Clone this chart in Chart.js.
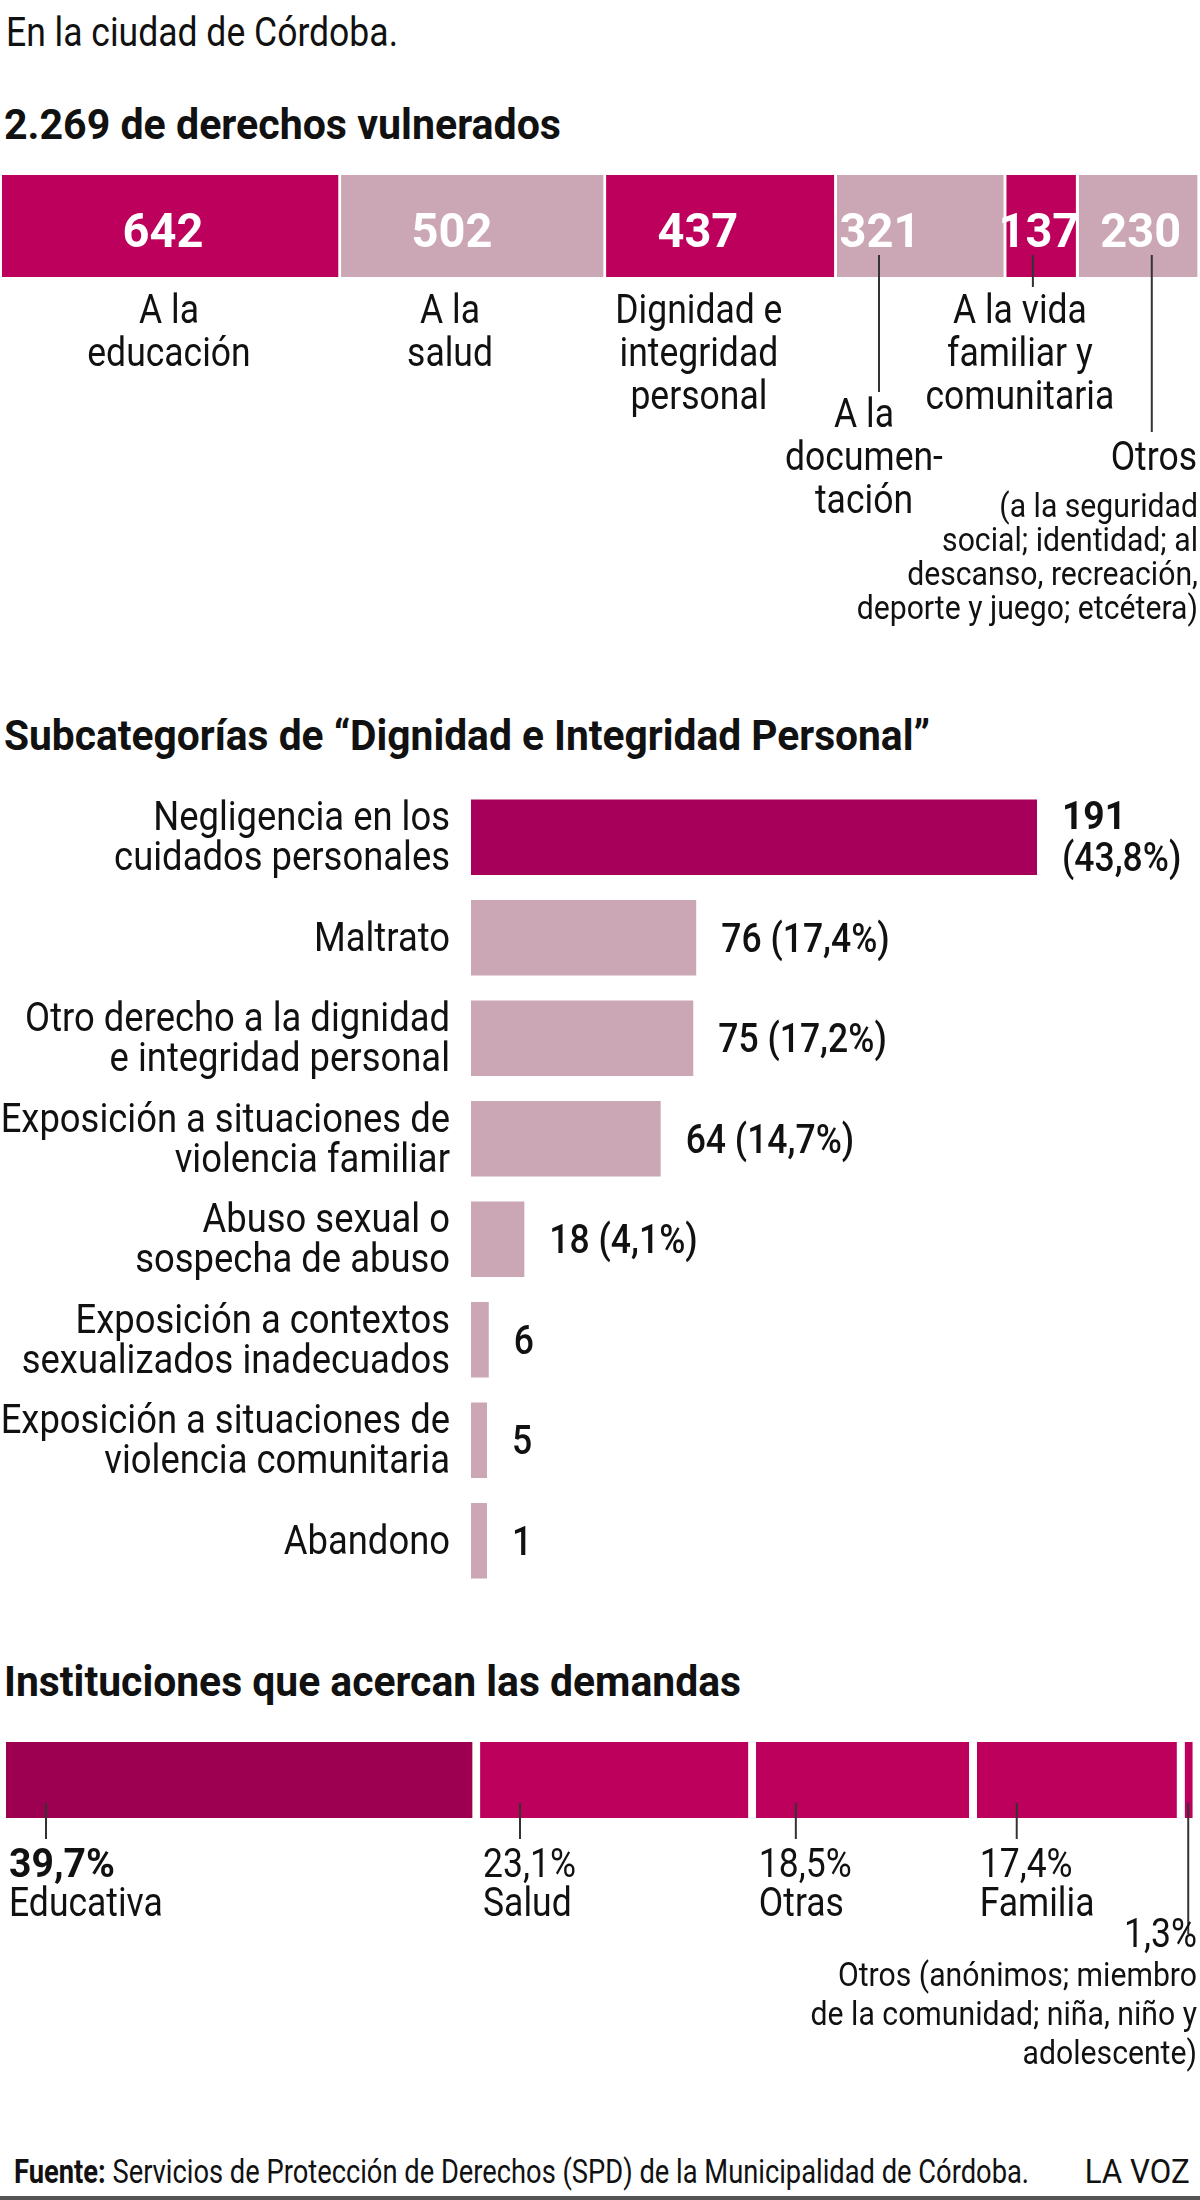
<!DOCTYPE html>
<html lang="es">
<head>
<meta charset="utf-8">
<title>Derechos vulnerados en la ciudad de Córdoba</title>
<script src="https://cdn.jsdelivr.net/npm/chart.js@4.4.1/dist/chart.umd.min.js"></script>
<style>
  html, body { margin: 0; padding: 0; background: #fff; }
  body { width: 1200px; height: 2200px; position: relative; overflow: hidden;
         font-family: Roboto, "Noto Sans", sans-serif; color: #111; }
  .t { position: absolute; white-space: nowrap; line-height: 1; transform-origin: 0 0; }
  .b { font-weight: 700; }
  canvas { position: absolute; left: 0; }
  #footLine { position: absolute; left: 0; top: 2196px; width: 1200px; height: 4px; background: #555; }
</style>
</head>
<body>

<div class="t" id="intro" style="left:6px; top:13px; font-size:40px;">En la ciudad de Córdoba.</div>
<div class="t b" id="title1" style="left:4px; top:104px; font-size:42px;">2.269 de derechos vulnerados</div>
<div class="t b" id="title2" style="left:4px; top:715px; font-size:42px;">Subcategorías de “Dignidad e Integridad Personal”</div>
<div class="t b" id="title3" style="left:4px; top:1661px; font-size:42px;">Instituciones que acercan las demandas</div>

<canvas id="rights" width="1200" height="660" style="top:0px"></canvas>
<canvas id="subcats" width="1200" height="820" style="top:780px"></canvas>
<canvas id="insts" width="1200" height="420" style="top:1720px"></canvas>

<div class="t" id="foot" style="left:14px; top:2155px; font-size:33px;"><b>Fuente:</b> Servicios de Protección de Derechos (SPD) de la Municipalidad de Córdoba.</div>
<div class="t" id="lavoz" style="right:10px; top:2155px; font-size:33px; transform-origin:100% 0;">LA VOZ</div>
<div id="footLine"></div>

<script>
// derechos vulnerados (total 2.269)
const rightsLabels = [['A la', 'educación'], ['A la', 'salud'], ['Dignidad e', 'integridad', 'personal'],
                      ['A la', 'documen-', 'tación'], ['A la vida', 'familiar y', 'comunitaria'], ['Otros']];
const rightsValues = [642, 502, 437, 321, 137, 230];
const otrosNote = ['(a la seguridad', 'social; identidad; al', 'descanso, recreación,', 'deporte y juego; etcétera)'];

// subcategorías de dignidad e integridad personal
const subLabels = [['Negligencia en los', 'cuidados personales'], ['Maltrato'],
                   ['Otro derecho a la dignidad', 'e integridad personal'],
                   ['Exposición a situaciones de', 'violencia familiar'],
                   ['Abuso sexual o', 'sospecha de abuso'],
                   ['Exposición a contextos', 'sexualizados inadecuados'],
                   ['Exposición a situaciones de', 'violencia comunitaria'], ['Abandono']];
const subValues = [191, 76, 75, 64, 18, 6, 5, 1];
const subPercents = [43.8, 17.4, 17.2, 14.7, 4.1, null, null, null];

// instituciones que acercan las demandas (%)
const instLabels = ['Educativa', 'Salud', 'Otras', 'Familia', 'Otros'];
const instShares = [39.7, 23.1, 18.5, 17.4, 1.3];
const instNote = ['Otros (anónimos; miembro', 'de la comunidad; niña, niño y', 'adolescente)'];

const MAGENTA = '#bc005c', PINK = '#cba6b4', DARK = '#a6005a', DARKEST = '#9d0050';
const INK = '#111';

// el diseño usa una letra condensada: se comprime Roboto en horizontal
const SX = { r: 1, b: 1 };
(function calib() {
  const c = document.createElement('canvas').getContext('2d');
  c.font = '400 40px Roboto';
  SX.r = 392 / c.measureText('En la ciudad de Córdoba.').width;
  c.font = '700 42px Roboto';
  SX.b = 557 / c.measureText('2.269 de derechos vulnerados').width;
})();

function fit(id, w) {
  const el = document.getElementById(id);
  el.style.transform = 'scaleX(' + (w / el.getBoundingClientRect().width) + ')';
}
fit('intro', 392);
fit('title1', 557);
fit('title2', 926);
fit('title3', 737);
fit('foot', 1015);
fit('lavoz', 105);

function txt(ctx, s, x, y, size, weight, align, color) {
  ctx.save();
  ctx.font = weight + ' ' + size + 'px Roboto, "Noto Sans", sans-serif';
  ctx.fillStyle = color || INK;
  ctx.textAlign = align || 'left';
  ctx.textBaseline = 'alphabetic';
  ctx.translate(x, y);
  ctx.scale(weight >= 600 ? SX.b : SX.r, 1);
  ctx.fillText(s, 0, 0);
  ctx.restore();
}

function vline(ctx, x, y1, y2) {
  ctx.save();
  ctx.strokeStyle = '#333';
  ctx.lineWidth = 2;
  ctx.beginPath();
  ctx.moveTo(x, y1);
  ctx.lineTo(x, y2);
  ctx.stroke();
  ctx.restore();
}

const pct = v => v.toFixed(1).replace('.', ',') + '%';

Chart.defaults.animation = false;
Chart.defaults.responsive = false;
Chart.defaults.devicePixelRatio = 1;
Chart.defaults.plugins.legend.display = false;
Chart.defaults.plugins.tooltip.enabled = false;

// ---------- 1. derechos vulnerados ----------
const numShift = [-7, -20, -22, -40, -2, 3];
const labShift = [-1, -22, -21, -56, -21, 0];
const labTop = [323, 323, 323, 427, 323, 470];
const lineShift = { 3: -41, 4: -8, 5: 14 };
const lineEnd = { 3: 392, 4: 287, 5: 432 };

new Chart(document.getElementById('rights'), {
  type: 'bar',
  data: {
    labels: ['Derechos'],
    datasets: rightsValues.map((v, i) => ({
      data: [v],
      backgroundColor: [0, 2, 4].includes(i) ? MAGENTA : PINK,
      borderColor: '#fff',
      borderWidth: { left: 0, right: 3, top: 0, bottom: 0 },
      borderSkipped: false,
      barPercentage: 1,
      categoryPercentage: 1
    }))
  },
  options: {
    indexAxis: 'y',
    layout: { padding: { top: 175, bottom: 383, left: 2, right: 0 } },
    scales: {
      x: { stacked: true, min: 0, max: 2269, display: false },
      y: { stacked: true, display: false }
    }
  },
  plugins: [{
    id: 'rightsText',
    afterDatasetsDraw(chart) {
      const ctx = chart.ctx;
      rightsValues.forEach((v, i) => {
        const bar = chart.getDatasetMeta(i).data[0];
        const cx = (bar.base + bar.x - 3) / 2;
        txt(ctx, String(v), cx + numShift[i], 247, 48, 700, 'center', '#fff');
        if (lineEnd[i]) vline(ctx, cx + lineShift[i], 255, lineEnd[i]);
        rightsLabels[i].forEach((ln, k) => {
          if (i === 5) txt(ctx, ln, 1197, labTop[i] + k * 43, 40, 400, 'right');
          else txt(ctx, ln, cx + labShift[i], labTop[i] + k * 43, 40, 400, 'center');
        });
      });
      otrosNote.forEach((ln, k) => txt(ctx, ln, 1198, 517 + k * 34, 34, 400, 'right'));
    }
  }]
});

// ---------- 2. subcategorías ----------
new Chart(document.getElementById('subcats'), {
  type: 'bar',
  data: {
    labels: subLabels,
    datasets: [{
      data: subValues,
      backgroundColor: subValues.map((v, i) => i === 0 ? DARK : PINK),
      barPercentage: 0.75,
      categoryPercentage: 1,
      minBarLength: 16
    }]
  },
  options: {
    indexAxis: 'y',
    layout: { padding: { top: 7, bottom: 9, left: 471, right: 0 } },
    scales: {
      x: { min: 0, max: 246, display: false },
      y: { display: false }
    }
  },
  plugins: [{
    id: 'subText',
    afterDatasetsDraw(chart) {
      const ctx = chart.ctx;
      chart.getDatasetMeta(0).data.forEach((bar, i) => {
        const lines = subLabels[i];
        const cy = bar.y;
        lines.forEach((ln, k) => {
          txt(ctx, ln, 450, cy + 13 + (k - (lines.length - 1) / 2) * 40, 41, 400, 'right');
        });
        const vx = bar.x + 25;
        if (i === 0) {
          txt(ctx, String(subValues[i]), vx, cy - 8, 38, 700, 'left');
          txt(ctx, '(' + pct(subPercents[i]) + ')', vx, cy + 34, 40, 500, 'left');
        } else {
          const s = subPercents[i] == null ? String(subValues[i])
                                           : subValues[i] + ' (' + pct(subPercents[i]) + ')';
          txt(ctx, s, vx, cy + 14, 40, 500, 'left');
        }
      });
    }
  }]
});

// ---------- 3. instituciones ----------
new Chart(document.getElementById('insts'), {
  type: 'bar',
  data: {
    labels: ['Instituciones'],
    datasets: instShares.map((v, i) => ({
      data: [v],
      backgroundColor: i === 0 ? DARKEST : MAGENTA,
      borderColor: '#fff',
      borderWidth: { left: 0, right: 8, top: 0, bottom: 0 },
      borderSkipped: false,
      barPercentage: 1,
      categoryPercentage: 1
    }))
  },
  options: {
    indexAxis: 'y',
    layout: { padding: { top: 22, bottom: 322, left: 6, right: 0 } },
    scales: {
      x: { stacked: true, min: 0, max: 100, display: false },
      y: { stacked: true, display: false }
    }
  },
  plugins: [{
    id: 'instText',
    afterDatasetsDraw(chart) {
      const ctx = chart.ctx;
      const last = instShares.length - 1;
      instShares.forEach((v, i) => {
        const bar = chart.getDatasetMeta(i).data[0];
        if (i < last) {
          vline(ctx, bar.base + 40, 83, 119);
          txt(ctx, pct(v), bar.base + 3, 157, 40, i === 0 ? 700 : 400, 'left');
          txt(ctx, instLabels[i], bar.base + 3, 196, 40, 400, 'left');
        } else {
          vline(ctx, (bar.base + bar.x - 8) / 2, 83, 214);
          txt(ctx, pct(v), 1197, 227, 40, 400, 'right');
          instNote.forEach((ln, k) => txt(ctx, ln, 1197, 266 + k * 39, 34, 400, 'right'));
        }
      });
    }
  }]
});
</script>
</body>
</html>
